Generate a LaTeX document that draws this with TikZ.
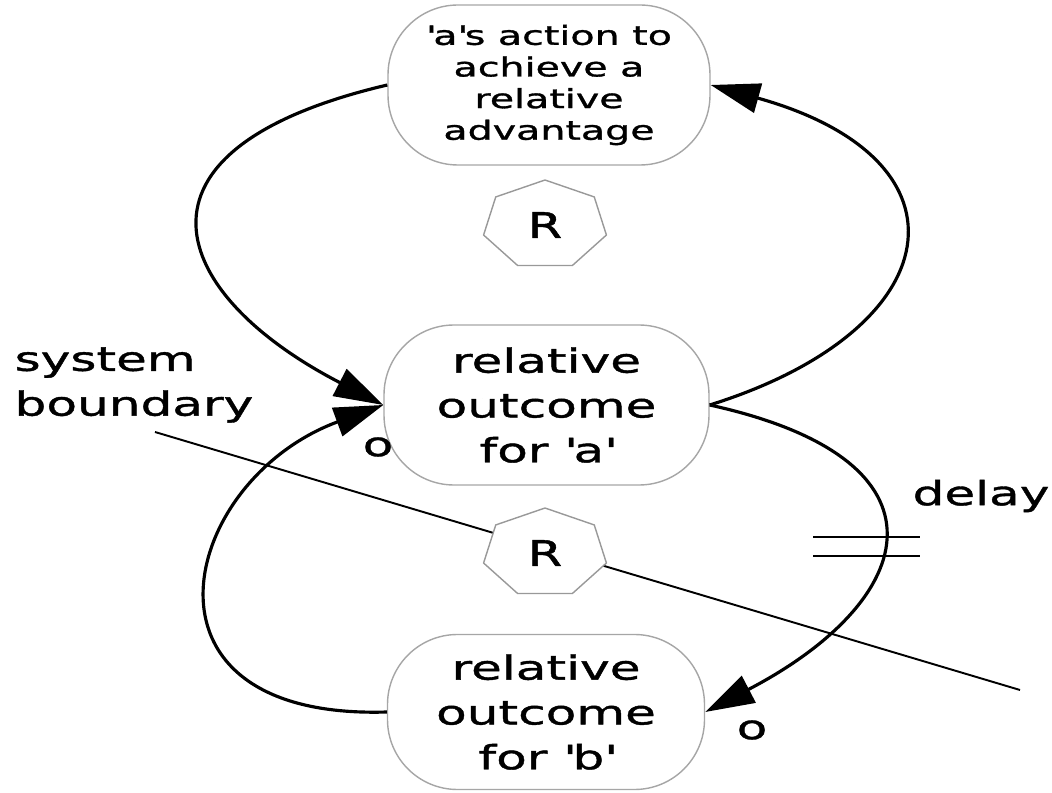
\documentclass[tikz,border=0pt]{standalone}
\usepackage{fontspec}
\setmainfont{DejaVu Sans}[FakeStretch=1.5, FakeBold=1.2]
\newfontfamily\plainfont{DejaVu Sans}[FakeBold=1.2]
\usetikzlibrary{arrows.meta,shapes.geometric}

\begin{document}
\begin{tikzpicture}[
    >={Triangle[length=28pt,width=17pt]},
    font=\fontsize{19}{25.5}\selectfont,
    var/.style   = {draw=gray!70, line width=0.8pt, rounded corners=1.4cm,
                    fill=white, align=center, minimum width=6.5cm,
                    minimum height=3.2cm, inner sep=2pt},
    rloop/.style = {draw=gray!80, line width=0.8pt, fill=white,
                    regular polygon, regular polygon sides=7,
                    minimum size=1.8cm, inner sep=0pt, xscale=1.4,
                    font=\plainfont\fontsize{20}{24}\selectfont},
    link/.style  = {->, line width=1.8pt},
    bound/.style = {line width=1.1pt},
    lbl/.style   = {inner sep=1pt},
]
\useasboundingbox (0,0) rectangle (21.04,15.84);

%% ── System boundary ───────────────────────────────────────────────────────
\coordinate (sb1) at (3.1, 7.2);
\coordinate (sb2) at (20.4, 2.04);
\draw[bound] (sb1) -- (sb2);
\node[lbl, anchor=west, align=left] (sbtxt) at (0.25, 8.14)
  {system\\boundary};

%% ── Variables ─────────────────────────────────────────────────────────────
\node[var, minimum width=6.44cm, font=\fontsize{15}{18}\selectfont]
  (act) at (10.98, 14.14)
  {\textquotesingle a\textquotesingle s action to\\achieve a\\relative\\advantage};
\node[var] (outa) at (10.93, 7.74)
  {relative\\outcome\\for \textquotesingle a\textquotesingle};
\node[var, minimum width=6.34cm, minimum height=3.1cm]
  (outb) at (10.92, 1.60)
  {relative\\outcome\\for \textquotesingle b\textquotesingle};

%% ── Loops ─────────────────────────────────────────────────────────────────
\node[rloop] (r1) at (10.9, 11.34) {R};
\node[rloop] (r2) at (10.9, 4.78) {R};

%% ── Links ─────────────────────────────────────────────────────────────────
\draw[link] (act.west) .. controls (2.2,12.84) and (3.4,9.94) .. (outa.west);
\draw[link] (outa.east) .. controls (19.0,9.24) and (19.6,12.64) .. (act.east);
\draw[link] (outa.east) .. controls (19.2,6.64) and (18.4,3.84) .. (outb.east);
\draw[link] (outb.west) .. controls (2.4,1.44) and (3.6,6.24) .. (outa.west);

\node[lbl] (oa) at (7.56, 6.9) {o};
\node[lbl] (ob) at (15.04, 1.24) {o};

%% ── Delay ─────────────────────────────────────────────────────────────────
\coordinate (d1) at (16.26, 5.10);
\coordinate (d2) at (18.40, 5.10);
\coordinate (d3) at (16.26, 4.72);
\coordinate (d4) at (18.40, 4.72);
\draw[bound] (d1) -- (d2);
\draw[bound] (d3) -- (d4);
\node[lbl] (dly) at (19.62, 5.92) {delay};

\end{tikzpicture}
\end{document}
